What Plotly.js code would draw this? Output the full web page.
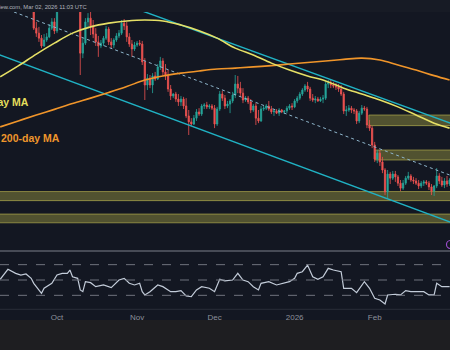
<!DOCTYPE html>
<html>
<head>
<meta charset="utf-8">
<script src="https://cdn.plot.ly/plotly-3.0.1.min.js"></script>
<style>
html,body{margin:0;padding:0;background:#131722;}
#chart{width:450px;height:350px;}
</style>
</head>
<body>
<div id="chart"></div>
<script>
// ---------- data (prices in thousand USD) ----------
const firstDay = [2025, 8, 22]; // 2025-09-22, one candle per day
const open = [119.8,114.0,112.4,110.8,108.3,110.2,111.2,114.0,116.0,113.1,
120.4,123.6,125.6,125.6,126.8,127.5,124.6,126.2,124.3,106.0,
109.2,116.0,117.2,114.7,112.1,109.6,108.3,109.2,110.8,113.7,
109.6,108.6,110.2,111.5,112.4,115.6,114.7,111.2,108.9,107.3,
108.6,109.2,108.9,103.2,95.8,98.0,95.8,98.7,97.7,101.6,
103.5,100.0,98.7,94.5,92.3,92.9,91.3,90.4,91.3,89.1,
85.9,84.0,83.3,85.2,87.2,86.5,89.1,89.4,88.8,89.1,
88.4,83.3,88.1,92.9,91.6,89.1,89.7,90.7,92.6,96.1,
94.8,93.2,91.0,91.6,90.4,87.8,89.1,85.2,84.3,88.1,
88.4,89.1,88.1,87.2,87.5,86.8,87.8,87.2,87.5,88.4,
89.1,88.8,90.7,91.6,92.9,94.2,95.5,94.5,91.6,91.0,
91.3,90.7,91.3,91.6,96.1,96.4,95.8,95.5,95.2,94.5,
92.9,87.5,87.8,88.4,87.8,87.5,84.3,86.8,88.4,88.1,
83.0,82.0,76.6,72.1,74.0,71.2,68.6,61.6,67.3,66.0,
67.3,66.4,64.4,62.8,64.4,66.0,66.7,65.4,65.1,64.4,
63.5,64.4,64.8,64.4,63.2,61.9,63.5,66.7,65.1,63.8,
65.1,64.1];
const high = [121.4,116.0,114.4,111.8,112.1,112.4,115.3,117.2,117.2,121.4,
124.6,126.2,126.8,127.5,130.0,128.1,126.8,126.8,125.6,110.8,
117.2,118.8,119.2,116.6,114.0,111.5,110.2,111.5,114.7,114.4,
110.8,110.8,112.4,113.4,116.6,116.9,116.0,112.4,110.2,109.6,
109.9,110.2,109.9,104.4,99.3,99.0,99.6,100.0,102.5,104.8,
104.4,102.5,100.6,95.8,93.2,93.6,92.9,92.3,92.0,91.6,
87.8,85.2,86.2,88.1,88.4,89.7,90.0,90.4,89.7,89.7,
89.4,88.8,93.9,93.9,92.6,90.7,91.3,93.6,99.0,98.7,
96.8,94.8,92.3,92.3,91.3,89.7,90.0,87.8,89.1,89.1,
89.7,90.7,89.1,88.1,88.1,88.4,88.1,87.8,89.1,89.7,
90.0,91.3,92.3,93.6,94.8,96.1,96.8,95.2,92.9,92.3,
92.0,92.0,92.6,96.8,97.4,97.4,96.8,96.4,96.1,95.8,
93.6,89.1,89.4,89.1,88.4,88.1,87.5,89.4,89.1,88.8,
84.6,82.7,77.6,75.0,75.0,72.8,69.2,68.6,68.0,68.3,
68.3,67.0,65.4,65.4,66.7,68.0,67.3,66.4,66.0,65.4,
65.1,65.4,65.4,65.1,64.1,63.8,69.2,67.6,66.4,66.0,
66.7,66.0];
const low = [113.4,111.2,109.6,107.6,108.0,109.6,110.8,113.4,112.1,112.4,
119.8,123.0,124.3,124.6,126.2,123.6,123.6,123.0,99.0,104.4,
108.6,114.0,111.8,110.8,108.3,104.8,107.6,108.3,110.2,108.6,
107.6,107.6,109.6,110.8,111.8,113.4,109.6,108.0,104.8,106.7,
108.0,108.3,102.2,91.0,94.2,94.8,93.2,97.1,97.4,100.6,
98.7,97.4,93.6,91.0,91.6,90.4,89.1,89.1,88.1,85.2,
79.8,82.7,83.0,84.3,85.9,85.9,88.1,88.1,88.1,87.8,
82.0,82.7,87.5,90.7,88.1,88.4,86.8,90.0,91.6,93.2,
92.0,90.0,90.4,89.7,86.8,87.2,83.0,83.6,84.0,87.5,
87.8,87.5,86.5,85.9,86.5,85.9,86.8,86.5,86.8,87.8,
87.8,88.4,90.0,91.0,92.3,93.6,93.6,90.7,90.4,90.0,
90.4,90.4,90.0,91.0,94.8,94.8,94.8,94.2,93.6,92.3,
86.5,85.9,87.2,86.8,86.5,83.3,83.6,86.2,87.5,82.0,
81.1,75.6,71.2,70.8,69.9,67.6,60.6,59.6,64.1,65.4,
64.8,63.5,61.9,62.2,63.8,65.4,64.8,64.1,63.8,62.5,
62.8,63.5,63.8,62.2,60.6,60.3,62.8,64.1,63.2,62.8,
63.2,63.5];
const close = [114.0,112.4,110.8,108.3,110.2,111.2,114.0,116.0,113.1,120.4,
123.6,125.6,125.6,126.8,127.5,124.6,126.2,124.3,106.0,109.2,
116.0,117.2,114.7,112.1,109.6,108.3,109.2,110.8,113.7,109.6,
108.6,110.2,111.5,112.4,115.6,114.7,111.2,108.9,107.3,108.6,
109.2,108.9,103.2,95.8,98.0,95.8,98.7,97.7,101.6,103.5,
100.0,98.7,94.5,92.3,92.9,91.3,90.4,91.3,89.1,85.9,
84.0,83.3,85.2,87.2,86.5,89.1,89.4,88.8,89.1,88.4,
83.3,88.1,92.9,91.6,89.1,89.7,90.7,92.6,96.1,94.8,
93.2,91.0,91.6,90.4,87.8,89.1,85.2,84.3,88.1,88.4,
89.1,88.1,87.2,87.5,86.8,87.8,87.2,87.5,88.4,89.1,
88.8,90.7,91.6,92.9,94.2,95.5,94.5,91.6,91.0,91.3,
90.7,91.3,91.6,96.1,96.4,95.8,95.5,95.2,94.5,92.9,
87.5,87.8,88.4,87.8,87.5,84.3,86.8,88.4,88.1,83.0,
82.0,76.6,72.1,74.0,71.2,68.6,61.6,67.3,66.0,67.3,
66.4,64.4,62.8,64.4,66.0,66.7,65.4,65.1,64.4,63.5,
64.4,64.8,64.4,63.2,61.9,63.5,66.7,65.1,63.8,65.1,
64.1,65.4];

// moving averages (weekly readings)
const maDates = ['2025-09-09','2025-09-16','2025-09-23','2025-09-30','2025-10-07','2025-10-14','2025-10-21','2025-10-28',
'2025-11-04','2025-11-11','2025-11-18','2025-11-25','2025-12-02','2025-12-09','2025-12-16','2025-12-23','2025-12-30',
'2026-01-06','2026-01-13','2026-01-20','2026-01-27','2026-02-03','2026-02-10','2026-02-17','2026-02-24','2026-03-02'];
const ma100 = [98.4,101.9,105.7,109.2,112.4,114.4,115.6,116.3,116.6,116.3,115.0,113.2,110.8,107.6,105.4,102.8,100.6,98.7,97.1,94.8,92.9,91.0,88.8,86.2,83.6,82.0];
const ma200 = [82.4,84.3,86.2,88.0,89.9,91.6,93.4,95.3,97.4,98.7,99.6,100.3,100.9,101.2,101.6,102.0,102.5,103.0,103.5,104.0,104.4,103.8,102.2,100.6,98.8,97.4];

// trendlines (end points)
const upperDates = ['2025-10-20','2026-03-03'], upperVals = [123.7, 83.4];
const lowerDates = ['2025-09-08','2026-03-03'], lowerVals = [105.7, 51.7];
const dottedDates = ['2025-09-10','2026-03-03'], dottedVals = [120.5, 66.7];

// support / resistance zones
const zoneStart = ['2025-09-01','2025-09-01','2026-01-29 18:00','2026-02-01 02:00'];
const zoneEnd   = ['2026-03-06','2026-03-06','2026-03-06','2026-03-06'];
const zoneLow   = [58.8, 51.7, 82.8, 71.8];
const zoneHigh  = [61.7, 54.5, 86.2, 75.0];

// RSI
const rsiDates = ['2025-09-09','2025-09-12','2025-09-15','2025-09-17','2025-09-19','2025-09-21','2025-09-22','2025-09-25','2025-09-26','2025-09-29',
'2025-10-01','2025-10-03','2025-10-05','2025-10-06','2025-10-07','2025-10-09','2025-10-10','2025-10-11','2025-10-12','2025-10-14',
'2025-10-16','2025-10-19','2025-10-22','2025-10-23','2025-10-25','2025-10-27','2025-10-29','2025-10-31','2025-11-02','2025-11-03',
'2025-11-04','2025-11-06','2025-11-09','2025-11-11','2025-11-14','2025-11-16','2025-11-18','2025-11-20','2025-11-22','2025-11-24',
'2025-11-26','2025-11-29','2025-12-01','2025-12-03','2025-12-05','2025-12-08','2025-12-10','2025-12-12','2025-12-14','2025-12-16',
'2025-12-18','2025-12-19','2025-12-22','2025-12-25','2025-12-28','2025-12-30','2026-01-01','2026-01-02','2026-01-04','2026-01-06',
'2026-01-08','2026-01-10','2026-01-12','2026-01-14','2026-01-16','2026-01-19','2026-01-20','2026-01-23','2026-01-25','2026-01-28',
'2026-01-30','2026-02-01','2026-02-03','2026-02-05','2026-02-06','2026-02-09','2026-02-11','2026-02-13','2026-02-15','2026-02-18',
'2026-02-20','2026-02-22','2026-02-24','2026-02-25','2026-02-27','2026-03-02'];
const rsiVals = [50.9,63.9,58.7,56.5,57.8,52.2,45.7,32.7,39.2,45.7,
56.5,58.7,58.7,63.0,54.3,52.2,37.0,34.8,47.8,46.5,
41.3,43.5,40.0,43.5,50.0,52.2,45.7,43.5,45.7,34.8,
30.5,34.8,43.5,41.3,34.8,34.8,36.1,29.2,28.2,37.0,
41.3,39.2,34.8,50.9,48.9,50.0,58.7,50.0,47.8,41.3,
37.0,45.7,47.8,43.5,45.7,47.8,52.2,58.7,60.8,69.5,
54.3,50.9,54.3,65.2,63.0,60.8,39.2,39.2,33.5,47.8,
39.2,26.2,23.9,18.7,30.5,31.4,30.5,36.1,34.8,34.8,
34.8,30.5,30.5,45.7,41.3,41.3];
const rsiLevels = [70, 50, 30];

// axis labels
const tickDates = ['2025-10-01','2025-11-01','2025-12-01','2026-01-01','2026-02-01','2026-03-01'];
const tickText = ['Oct','Nov','Dec','2026','Feb','Mar'];

// ---------- build ----------
const dates = open.map((_, i) => new Date(Date.UTC(firstDay[0], firstDay[1], firstDay[2] + i)).toISOString().slice(0, 10));

const H = 350;
const py = px => (H - px) / H; // pixel row -> paper fraction
const BG = '#131722';

const traces = [
  {type:'scatter', mode:'lines', x:upperDates, y:upperVals, line:{color:'#20b2c4', width:1.4}, xaxis:'x', yaxis:'y', hoverinfo:'skip'},
  {type:'scatter', mode:'lines', x:lowerDates, y:lowerVals, line:{color:'#20b2c4', width:1.4}, xaxis:'x', yaxis:'y', hoverinfo:'skip'},
  {type:'scatter', mode:'lines', x:dottedDates, y:dottedVals, line:{color:'#8fb6cc', width:1, dash:'dot'}, xaxis:'x', yaxis:'y', hoverinfo:'skip'},
  {type:'scatter', mode:'lines', x:maDates, y:ma200, line:{color:'#f0952a', width:1.6, shape:'spline'}, xaxis:'x', yaxis:'y', hoverinfo:'skip'},
  {type:'scatter', mode:'lines', x:maDates, y:ma100, line:{color:'#e6e066', width:1.6, shape:'spline'}, xaxis:'x', yaxis:'y', hoverinfo:'skip'},
  {type:'candlestick', x:dates, open:open, high:high, low:low, close:close,
    increasing:{line:{color:'#26a69a', width:0.8}, fillcolor:'#26a69a'},
    decreasing:{line:{color:'#ef5350', width:0.8}, fillcolor:'#ef5350'},
    whiskerwidth:0, xaxis:'x', yaxis:'y', hoverinfo:'skip'},
  {type:'scatter', mode:'lines', x:rsiDates, y:rsiVals, line:{color:'#c3ccd9', width:1.2}, xaxis:'x', yaxis:'y2', hoverinfo:'skip'}
];

const shapes = [
  // header strip and bottom strip
  {type:'rect', xref:'paper', yref:'paper', x0:0, x1:1, y0:py(12), y1:1, fillcolor:'#171b25', line:{width:0}, layer:'above'},
  {type:'rect', xref:'paper', yref:'paper', x0:0, x1:1, y0:0, y1:py(320), fillcolor:'#1e1e21', line:{width:0}, layer:'below'},
  // panel separators
  {type:'line', xref:'paper', yref:'paper', x0:0, x1:1, y0:py(251), y1:py(251), line:{color:'#7c808a', width:1.2}},
  {type:'line', xref:'paper', yref:'paper', x0:0, x1:1, y0:py(309.3), y1:py(309.3), line:{color:'#2a2e39', width:1}},
  // purple marker
  {type:'circle', xref:'paper', yref:'paper', x0:446.5/450, x1:454.5/450, y0:py(248.5), y1:py(240.5), line:{color:'#9c4dcc', width:1.2}}
];
rsiLevels.forEach(v => shapes.push({type:'line', xref:'paper', yref:'y2', x0:0, x1:1, y0:v, y1:v, line:{color:'#6f737d', width:1, dash:'dash'}}));
zoneStart.forEach((s, i) => shapes.push({type:'rect', xref:'x', yref:'y', x0:s, x1:zoneEnd[i], y0:zoneLow[i], y1:zoneHigh[i],
  fillcolor:'rgba(185,178,70,0.38)', line:{color:'rgba(205,198,85,0.55)', width:1}, layer:'below'}));

const layout = {
  width:450, height:350,
  margin:{l:0, r:0, t:0, b:0, pad:0},
  paper_bgcolor:BG, plot_bgcolor:BG,
  showlegend:false,
  font:{family:'Liberation Sans, Arial, sans-serif'},
  xaxis:{type:'date', range:['2025-09-08 22:20','2026-03-02 03:40'], anchor:'y2',
    showgrid:false, zeroline:false, showline:false, ticks:'', ticklabelstandoff:2,
    tickvals:tickDates, ticktext:tickText, tickfont:{size:8, color:'#8d919b'},
    rangeslider:{visible:false}, fixedrange:true},
  yaxis:{domain:[py(251), py(12)], range:[42.68, 119.16], showgrid:false, zeroline:false,
    showticklabels:false, ticks:'', fixedrange:true},
  yaxis2:{domain:[py(309.3), py(251)], range:[11.8, 87.8], showgrid:false, zeroline:false,
    showticklabels:false, ticks:'', fixedrange:true},
  shapes:shapes,
  annotations:[
    {xref:'paper', yref:'paper', x:88/450, y:py(6.5), xanchor:'right', yanchor:'middle', showarrow:false,
      text:'TradingView.com, Mar 02, 2026 11:03 UTC', font:{size:5.8, color:'#b2b5be'}, borderpad:0},
    {xref:'paper', yref:'paper', x:30/450, y:py(102.5), xanchor:'right', yanchor:'middle', showarrow:false,
      text:'<b>100-day MA</b>', font:{size:10.5, color:'#e4de5c'}, borderpad:0},
    {xref:'paper', yref:'paper', x:-0.5/450, y:py(137.5), xanchor:'left', yanchor:'middle', showarrow:false,
      text:'<b>200-day MA</b>', font:{size:10.5, color:'#ef962c'}, borderpad:0}
  ]
};

Plotly.newPlot('chart', traces, layout, {displayModeBar:false, staticPlot:true});
</script>
</body>
</html>
